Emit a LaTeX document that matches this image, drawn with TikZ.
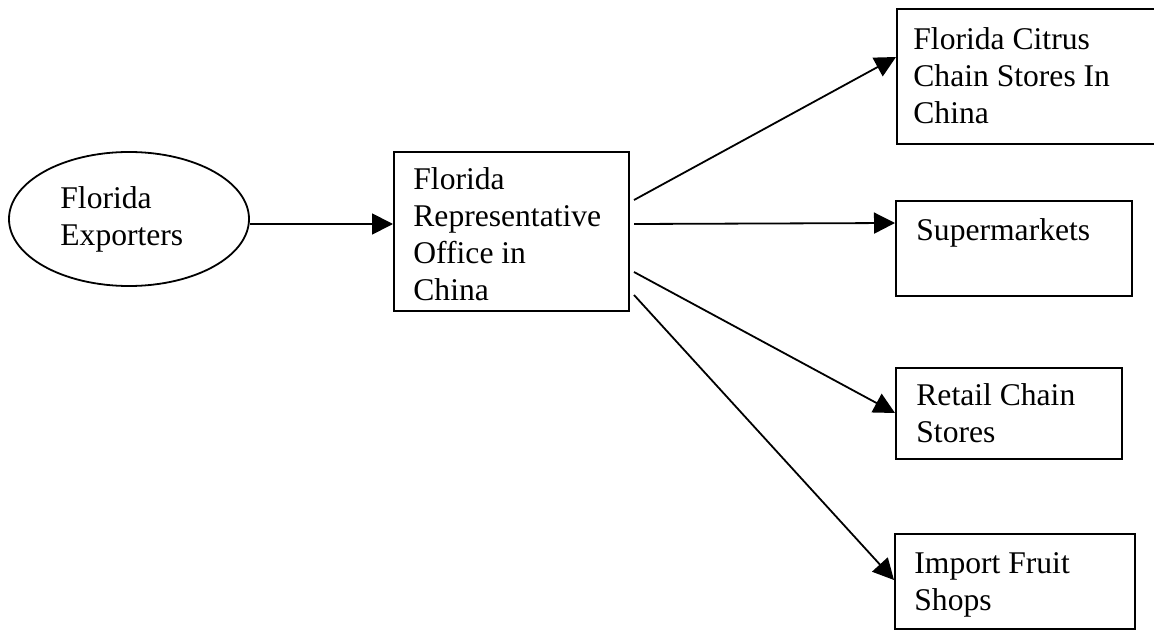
\documentclass[tikz,border=0pt]{standalone}
\usepackage{fontspec}
\setmainfont{Liberation Serif}
\usetikzlibrary{arrows.meta,shapes.geometric,calc}
\newcommand\mylines[1]{\begin{tabular}[t]{@{}l@{}}#1\end{tabular}}
\begin{document}
\begin{tikzpicture}[x=0.5pt,y=-0.5pt,
  box/.style={draw, line width=1pt, rectangle, inner sep=0pt, anchor=north west},
  lbl/.style={anchor=base west, inner sep=0pt, font=\fontsize{15.8}{18.5}\selectfont},
  arr/.style={line width=0.9pt, -{Triangle[length=10.5pt,width=10.5pt]}}]
\useasboundingbox (0,0) rectangle (1154,630);
\node[draw, ellipse, line width=0.9pt, minimum width=120pt, minimum height=67pt, inner sep=0pt] (ell) at (129,219) {};
\node[box, minimum width=117.5pt, minimum height=79.5pt] (mid) at (393,151) {};
\node[box, minimum width=150pt, minimum height=67.5pt] (b1) at (896,8) {};
\node[box, minimum width=118pt, minimum height=47.5pt] (b2) at (895,200) {};
\node[box, minimum width=113pt, minimum height=45.5pt] (b3) at (895,367) {};
\node[box, minimum width=120pt, minimum height=47.5pt] (b4) at (894,533) {};

\node[lbl] (tell) at (60,209) {\mylines{Florida\\Exporters}};
\node[lbl] (tmid) at ($(mid.north west)+(20,39)$) {\mylines{Florida\\Representative\\Office in\\China}};
\node[lbl] (tb1) at ($(b1.north west)+(17,42)$) {\mylines{Florida Citrus\\Chain Stores In\\China}};
\node[lbl] (tb2) at ($(b2.north west)+(21,41)$) {\mylines{Supermarkets}};
\node[lbl] (tb3) at ($(b3.north west)+(21,38)$) {\mylines{Retail Chain\\Stores}};
\node[lbl] (tb4) at ($(b4.north west)+(20,40)$) {\mylines{Import Fruit\\Shops}};

\draw[arr] ($(ell.east)+(0,5)$) -- ($(mid.north west)+(0,73)$);
\draw[arr] ($(mid.north east)+(4,49)$) -- ($(b1.north west)+(0,49)$);
\draw[arr] ($(mid.north east)+(4,73)$) -- ($(b2.north west)+(0,23)$);
\draw[arr] ($(mid.north east)+(4,121)$) -- ($(b3.north west)+(0,46)$);
\draw[arr] ($(mid.north east)+(4,144)$) -- ($(b4.north west)+(0,47)$);
\end{tikzpicture}
\end{document}
